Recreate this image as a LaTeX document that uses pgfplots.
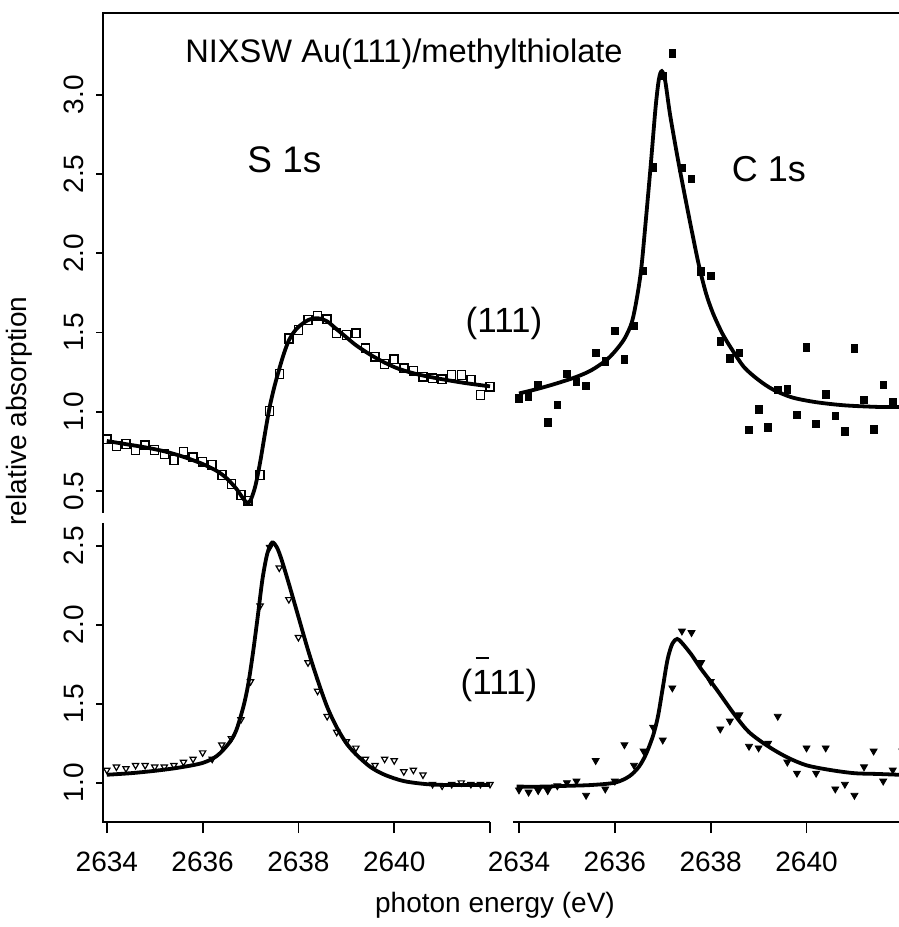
\documentclass[border=0pt]{standalone}
\usepackage{pgfplots}
\pgfplotsset{compat=1.18}
\usepackage{fontspec}
\setmainfont{Liberation Sans}
\setsansfont{Liberation Sans}

\pgfplotsset{
  base/.style={
    scale only axis, clip=false, anchor=south west,
    axis line style={draw=none},
    tick style={line width=0.9pt, black},
    tick align=outside,
    major tick length=3.5pt,
    /pgf/number format/assume math mode=true,
    /pgf/number format/.cd, fixed, fixed zerofill, precision=1, /pgfplots/.cd,
    tick label style={font=\fontsize{14}{15}\selectfont},
    yticklabel style={rotate=90, anchor=south, inner sep=0pt},
    xticklabel style={anchor=north, inner sep=0pt},
    yticklabel shift=5.9pt, xticklabel shift=9.5pt,
    ytick pos=left, xtick pos=bottom,
  },
  fit/.style={line width=1.9pt, black, smooth, no markers},
}

\begin{document}
\begin{tikzpicture}
\useasboundingbox (0,0) rectangle (449.5pt,463.5pt);

% ---------- top left: S 1s (111)
\begin{axis}[base, at={(51.5pt,207pt)}, width=193.5pt, height=250pt,
  xmin=2633.92, xmax=2642.0, ymin=0.3605, ymax=3.517,
  xtick=\empty, ytick={0.5,1.0,1.5,2.0,2.5,3.0}]
\addplot[only marks, mark=square, mark size=2.0pt, mark options={line width=0.75pt, yscale=1.1}] coordinates {
(2634.0,0.826)(2634.2,0.783)(2634.4,0.796)(2634.6,0.758)(2634.8,0.788)
(2635.0,0.758)(2635.2,0.733)(2635.4,0.695)(2635.6,0.747)(2635.8,0.712)
(2636.0,0.684)(2636.2,0.663)(2636.4,0.600)(2636.6,0.544)(2636.8,0.474)
(2636.95,0.438)(2637.2,0.600)(2637.4,1.004)(2637.6,1.238)(2637.8,1.463)
(2638.0,1.516)(2638.2,1.579)(2638.4,1.604)(2638.6,1.583)(2638.8,1.495)
(2639.0,1.484)(2639.2,1.495)(2639.4,1.400)(2639.6,1.347)(2639.8,1.301)
(2640.0,1.331)(2640.2,1.274)(2640.4,1.259)(2640.6,1.221)(2640.8,1.211)
(2641.0,1.205)(2641.2,1.232)(2641.4,1.232)(2641.6,1.200)(2641.8,1.105)
(2642.0,1.158)};
\addplot[fit] coordinates {
(2634.0,0.815)(2634.4,0.795)(2634.8,0.775)(2635.2,0.750)(2635.6,0.715)
(2636.0,0.670)(2636.3,0.625)(2636.5,0.580)(2636.7,0.515)(2636.85,0.450)
(2636.93,0.425)(2637.0,0.440)(2637.1,0.53)(2637.2,0.68)(2637.3,0.86)
(2637.4,1.03)(2637.5,1.16)(2637.6,1.27)(2637.7,1.37)(2637.8,1.45)
(2637.9,1.50)(2638.0,1.535)(2638.2,1.578)(2638.4,1.59)(2638.6,1.57)
(2638.8,1.52)(2639.0,1.47)(2639.2,1.42)(2639.5,1.36)(2639.8,1.31)
(2640.1,1.27)(2640.5,1.235)(2641.0,1.205)(2641.5,1.18)(2642.0,1.16)};
\end{axis}

% ---------- top right: C 1s (111)
\begin{axis}[base, at={(256.5pt,207pt)}, width=193pt, height=250pt,
  xmin=2633.875, xmax=2641.93, ymin=0.3605, ymax=3.517,
  xtick=\empty, ytick=\empty]
\addplot[only marks, mark=square*, mark size=1.65pt, mark options={yscale=1.15}] coordinates {
(2634.0,1.085)(2634.2,1.095)(2634.4,1.169)(2634.6,0.931)(2634.8,1.042)
(2635.0,1.238)(2635.2,1.189)(2635.4,1.162)(2635.6,1.372)(2635.8,1.316)
(2636.0,1.511)(2636.2,1.331)(2636.4,1.541)(2636.6,1.890)(2636.8,2.543)
(2637.0,3.12)(2637.2,3.263)(2637.4,2.54)(2637.6,2.47)(2637.8,1.884)
(2638.0,1.857)(2638.2,1.442)(2638.4,1.337)(2638.6,1.372)(2638.8,0.884)
(2639.0,1.015)(2639.2,0.902)(2639.4,1.137)(2639.6,1.141)(2639.8,0.979)
(2640.0,1.407)(2640.2,0.922)(2640.4,1.110)(2640.6,0.973)(2640.8,0.874)
(2641.0,1.400)(2641.2,1.074)(2641.4,0.889)(2641.6,1.169)(2641.8,1.059)
(2642.0,0.874)};
\addplot[fit] coordinates {
(2634.0,1.115)(2634.4,1.145)(2634.8,1.18)(2635.2,1.22)(2635.5,1.26)
(2635.8,1.32)(2636.0,1.38)(2636.2,1.46)(2636.35,1.56)(2636.45,1.70)
(2636.55,1.90)(2636.65,2.22)(2636.75,2.56)(2636.85,2.92)(2636.92,3.10)
(2636.98,3.15)(2637.05,3.09)(2637.15,2.88)(2637.3,2.62)(2637.45,2.38)
(2637.6,2.15)(2637.75,1.93)(2637.9,1.75)(2638.05,1.62)(2638.25,1.49)
(2638.45,1.39)(2638.7,1.28)(2639.0,1.20)(2639.3,1.14)(2639.7,1.09)
(2640.2,1.06)(2640.8,1.04)(2641.5,1.03)(2641.93,1.03)};
\end{axis}

% ---------- bottom left: S 1s (-111)
\begin{axis}[base, at={(51.5pt,52.5pt)}, width=193.5pt, height=149.5pt,
  xmin=2633.92, xmax=2642.0, ymin=0.751, ymax=2.644,
  xtick=\empty, ytick={1.0,1.5,2.0,2.5}]
\addplot[only marks, mark=triangle, mark size=1.8pt, mark options={rotate=180, line width=0.6pt}] coordinates {
(2634.0,1.08)(2634.2,1.10)(2634.4,1.09)(2634.6,1.11)(2634.8,1.11)
(2635.0,1.10)(2635.2,1.10)(2635.4,1.11)(2635.6,1.13)(2635.8,1.15)
(2636.0,1.19)(2636.2,1.15)(2636.4,1.24)(2636.6,1.28)(2636.8,1.40)
(2637.0,1.64)(2637.2,2.12)(2637.4,2.49)(2637.6,2.36)(2637.8,2.16)
(2638.0,1.92)(2638.2,1.76)(2638.4,1.58)(2638.6,1.42)(2638.8,1.32)
(2639.0,1.26)(2639.2,1.22)(2639.4,1.15)(2639.6,1.11)(2639.8,1.15)
(2640.0,1.14)(2640.2,1.07)(2640.4,1.08)(2640.6,1.05)(2640.8,0.99)
(2641.0,0.98)(2641.2,0.99)(2641.4,1.00)(2641.6,0.99)(2641.8,0.99)
(2642.0,0.99)};
\addplot[fit] coordinates {
(2634.0,1.05)(2634.5,1.06)(2635.0,1.075)(2635.5,1.095)(2636.0,1.125)
(2636.3,1.17)(2636.55,1.25)(2636.7,1.33)(2636.85,1.48)(2636.95,1.62)
(2637.05,1.82)(2637.15,2.05)(2637.25,2.29)(2637.35,2.45)(2637.45,2.52)
(2637.55,2.49)(2637.65,2.41)(2637.8,2.26)(2638.0,2.05)(2638.2,1.84)
(2638.4,1.65)(2638.6,1.48)(2638.8,1.35)(2639.0,1.25)(2639.2,1.18)
(2639.5,1.10)(2639.8,1.05)(2640.2,1.01)(2640.7,0.99)(2641.2,0.985)
(2642.0,0.985)};
\end{axis}
% x ticks of bottom left
\begin{axis}[base, at={(51.5pt,52.5pt)}, width=193.5pt, height=149.5pt,
  xmin=2633.92, xmax=2642.0, ymin=0.751, ymax=2.644, major tick length=5.5pt,
  ytick=\empty, xtick={2634,2636,2638,2640,2642},
  xticklabels={2634,2636,2638,2640,{}}]
\addplot[draw=none] coordinates {(2635,1)};
\end{axis}

% ---------- bottom right: C 1s (-111)
\begin{axis}[base, at={(256.5pt,52.5pt)}, width=193pt, height=149.5pt,
  xmin=2633.875, xmax=2641.93, ymin=0.751, ymax=2.644, major tick length=5.5pt,
  ytick=\empty, xtick={2634,2636,2638,2640},
  xticklabels={2634,2636,2638,2640}]
\addplot[only marks, mark=triangle*, mark size=2.0pt, mark options={rotate=180}] coordinates {
(2634.0,0.954)(2634.2,0.94)(2634.4,0.95)(2634.6,0.95)(2634.8,0.98)
(2635.0,1.00)(2635.2,1.01)(2635.4,0.92)(2635.6,1.14)(2635.8,0.96)
(2636.0,1.01)(2636.2,1.24)(2636.4,1.11)(2636.6,1.20)(2636.8,1.35)
(2637.0,1.27)(2637.2,1.60)(2637.4,1.96)(2637.6,1.95)(2637.8,1.76)
(2638.0,1.64)(2638.2,1.34)(2638.4,1.39)(2638.6,1.43)(2638.8,1.23)
(2639.0,1.22)(2639.2,1.25)(2639.4,1.42)(2639.6,1.13)(2639.8,1.06)
(2640.0,1.22)(2640.2,1.06)(2640.4,1.22)(2640.6,0.96)(2640.8,0.99)
(2641.0,0.92)(2641.2,1.10)(2641.4,1.20)(2641.6,1.01)(2641.8,1.08)
(2642.0,1.20)};
\addplot[fit] coordinates {
(2633.95,0.975)(2634.5,0.975)(2635.0,0.98)(2635.5,0.985)(2636.0,1.0)
(2636.3,1.04)(2636.5,1.10)(2636.65,1.18)(2636.8,1.30)(2636.9,1.42)
(2637.0,1.60)(2637.1,1.78)(2637.2,1.88)(2637.3,1.91)(2637.4,1.885)
(2637.6,1.81)(2637.8,1.72)(2638.1,1.60)(2638.5,1.43)(2638.8,1.32)
(2639.2,1.23)(2639.6,1.16)(2640.0,1.11)(2640.5,1.08)(2641.0,1.06)
(2641.5,1.055)(2641.93,1.05)};
\end{axis}

% ---------- axis lines
\draw[line width=0.9pt] (51.5pt,207pt) -- (51.5pt,457pt) -- (449.5pt,457pt);
\draw[line width=0.9pt] (51.5pt,202pt) -- (51.5pt,52.5pt) -- (245pt,52.5pt);
\draw[line width=0.9pt] (256.5pt,52.5pt) -- (449.5pt,52.5pt);

% ---------- texts
\node[anchor=base, font=\fontsize{16.3}{18}\selectfont, inner sep=0pt] at (202pt,432pt) {NIXSW Au(111)/methylthiolate};
\node[anchor=base, font=\fontsize{18.5}{20}\selectfont, inner sep=0pt] at (142.25pt,377pt) {S 1s};
\node[anchor=base, font=\fontsize{18}{20}\selectfont, inner sep=0pt] at (384.5pt,372.5pt) {C 1s};
\node[anchor=base, font=\fontsize{17.5}{20}\selectfont, inner sep=0pt] at (252pt,297pt) {(111)};
\node[anchor=base, font=\fontsize{17.5}{20}\selectfont, inner sep=0pt] at (249.5pt,116pt)
  {(\makebox[0pt][l]{\hspace{0.09em}\rule[1.02em]{0.38em}{0.065em}}111)};
\node[anchor=base, font=\fontsize{14}{16}\selectfont, inner sep=0pt] at (247.5pt,7.5pt) {photon energy (eV)};
\node[anchor=base, rotate=90, font=\fontsize{14}{16}\selectfont, inner sep=0pt] at (13.5pt,258pt) {relative absorption};
\end{tikzpicture}
\end{document}
